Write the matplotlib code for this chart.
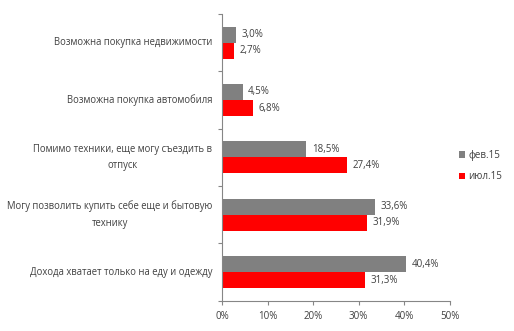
import matplotlib.pyplot as plt
import matplotlib.transforms as mtransforms
import numpy as np

plt.rcParams['font.family'] = ['Open Sans', 'DejaVu Sans']

categories = [
    "Возможна покупка недвижимости",
    "Возможна покупка автомобиля",
    "Помимо техники, еще могу съездить в\nотпуск",
    "Могу позволить купить себе еще и бытовую\nтехнику",
    "Дохода хватает только на еду и одежду",
]
feb15 = [3.0, 4.5, 18.5, 33.6, 40.4]
jul15 = [2.7, 6.8, 27.4, 31.9, 31.3]
series_names = ["фев.15", "июл.15"]

text_color = "#404040"
axis_color = "#868686"

fig = plt.figure(figsize=(5.14, 3.31), dpi=100)
ax = fig.add_axes([0.432, 0.091, 0.443, 0.867])

y = np.arange(len(categories))
h = 0.28
b1 = ax.barh(y - h / 2, feb15, height=h, color="#808080", label=series_names[0])
b2 = ax.barh(y + h / 2, jul15, height=h, color="#ff0000", label=series_names[1])

for bars, vals in ((b1, feb15), (b2, jul15)):
    for bar, v in zip(bars, vals):
        ax.annotate(f"{v:.1f}%".replace(".", ","),
                    (bar.get_width(), bar.get_y() + bar.get_height() / 2),
                    xytext=(4, 0), textcoords="offset points",
                    va="center", ha="left", fontsize=7, color=text_color)

ax.set_xlim(0, 50)
ax.set_ylim(len(categories) - 0.5, -0.5)
ax.set_xticks(np.arange(0, 51, 10))
ax.set_xticklabels([f"{t}%" for t in range(0, 51, 10)])

# category names drawn as text so two-line names are centred
ax.set_yticks(np.arange(-0.5, len(categories), 1))
ax.set_yticklabels([])
trans = mtransforms.blended_transform_factory(ax.transAxes, ax.transData)
for yi, name in zip(y, categories):
    ax.annotate(name, (0, yi), xycoords=trans, xytext=(-7, 0),
                textcoords="offset points", ha="right", va="center",
                multialignment="center", linespacing=1.7,
                fontsize=6.85, color=text_color)

ax.tick_params(axis="y", length=3, color=axis_color)
ax.tick_params(axis="x", length=3, color=axis_color, pad=4)
ax.tick_params(labelsize=7, labelcolor=text_color)

for side in ("top", "right"):
    ax.spines[side].set_visible(False)
for side in ("left", "bottom"):
    ax.spines[side].set_color(axis_color)
    ax.spines[side].set_linewidth(0.8)

ax.legend(loc="center left", bbox_to_anchor=(1.0, 0.47), frameon=False,
          fontsize=7, labelcolor=text_color, handlelength=0.7,
          handleheight=0.7, handletextpad=0.3, labelspacing=1.1)

fig.savefig("out.png", dpi=100)
